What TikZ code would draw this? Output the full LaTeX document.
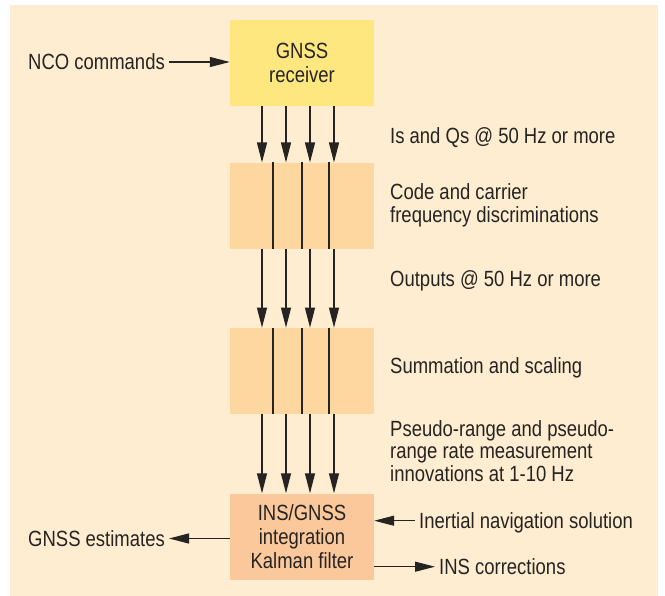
\documentclass[tikz,border=0pt]{standalone}
\usepackage{fontspec}
\setmainfont{Liberation Sans}[FakeStretch=0.84]
\usetikzlibrary{arrows.meta}
\definecolor{panel}{RGB}{254,237,208}
\definecolor{rxyellow}{RGB}{255,231,128}
\definecolor{stage}{RGB}{254,214,160}
\definecolor{kfsalmon}{RGB}{251,200,155}
\definecolor{ink}{RGB}{38,36,34}

\begin{document}
\begin{tikzpicture}[x=1pt,y=-1pt,
    box/.style={inner sep=0pt,minimum width=144pt,minimum height=86pt,align=center,text=ink,font=\fontsize{22}{23.8}\selectfont},
    lbl/.style={inner xsep=4pt,inner ysep=0pt,text height=15.7pt,text depth=0pt,text=ink,font=\fontsize{22}{22.5}\selectfont},
    note/.style={inner sep=0pt,anchor=west,align=left,text=ink,font=\fontsize{22}{22.5}\selectfont},
    flow/.style={line width=1.2pt,draw=ink,-{Triangle[length=20pt,width=10pt]}},
    split/.style={line width=1.2pt,draw=ink}]
    \useasboundingbox (0,0) rectangle (665,596);
    \fill[panel] (10,5) rectangle (658,596);

    \node[box,fill=rxyellow] (rx) at (302,63) {GNSS\\receiver};
    \node[box,fill=stage] (disc) at (302,205.7) {};
    \node[box,fill=stage] (sum) at (302,370.8) {};
    \node[box,fill=kfsalmon] (kf) at (302,536.5) {INS/GNSS\\integration\\Kalman filter};

    \foreach \x in {273,302,329} {
        \draw[split] (\x,0 |- disc.north) -- (\x,0 |- disc.south);
        \draw[split] (\x,0 |- sum.north) -- (\x,0 |- sum.south);}
    \foreach \x in {262,286,310,334} {
        \draw[flow] (\x,0 |- rx.south) -- (\x,0 |- disc.north);
        \draw[flow] (\x,0 |- disc.south) -- (\x,0 |- sum.north);
        \draw[flow] (\x,0 |- sum.south) -- (\x,0 |- kf.north);}

    \node[lbl,anchor=east] (nco) at (169,62) {NCO commands};
    \node[lbl,anchor=east] (est) at (169,538.5) {GNSS estimates};
    \node[lbl,anchor=west] (ins) at (415,520.7) {Inertial navigation solution};
    \node[lbl,anchor=west] (cor) at (435,566.7) {INS corrections};
    \draw[flow] (nco.east) -- (nco.east -| rx.west);
    \draw[flow] (est.east -| kf.west) -- (est.east);
    \draw[flow] (ins.west) -- (ins.west -| kf.east);
    \draw[flow] (cor.west -| kf.east) -- (cor.west);

    \node[lbl,anchor=west,inner xsep=0pt] (iq) at (390,135.6) {Is and Qs @ 50 Hz or more};
    \node[note] (discr) at (390,205.2) {Code and carrier\\frequency discriminations};
    \node[lbl,anchor=west,inner xsep=0pt] (out) at (390,278.2) {Outputs @ 50 Hz or more};
    \node[lbl,anchor=west,inner xsep=0pt] (scal) at (390,365.2) {Summation and scaling};
    \node[note] (innov) at (390,451) {Pseudo-range and pseudo-\\range rate measurement\\innovations at 1-10 Hz};
\end{tikzpicture}
\end{document}
